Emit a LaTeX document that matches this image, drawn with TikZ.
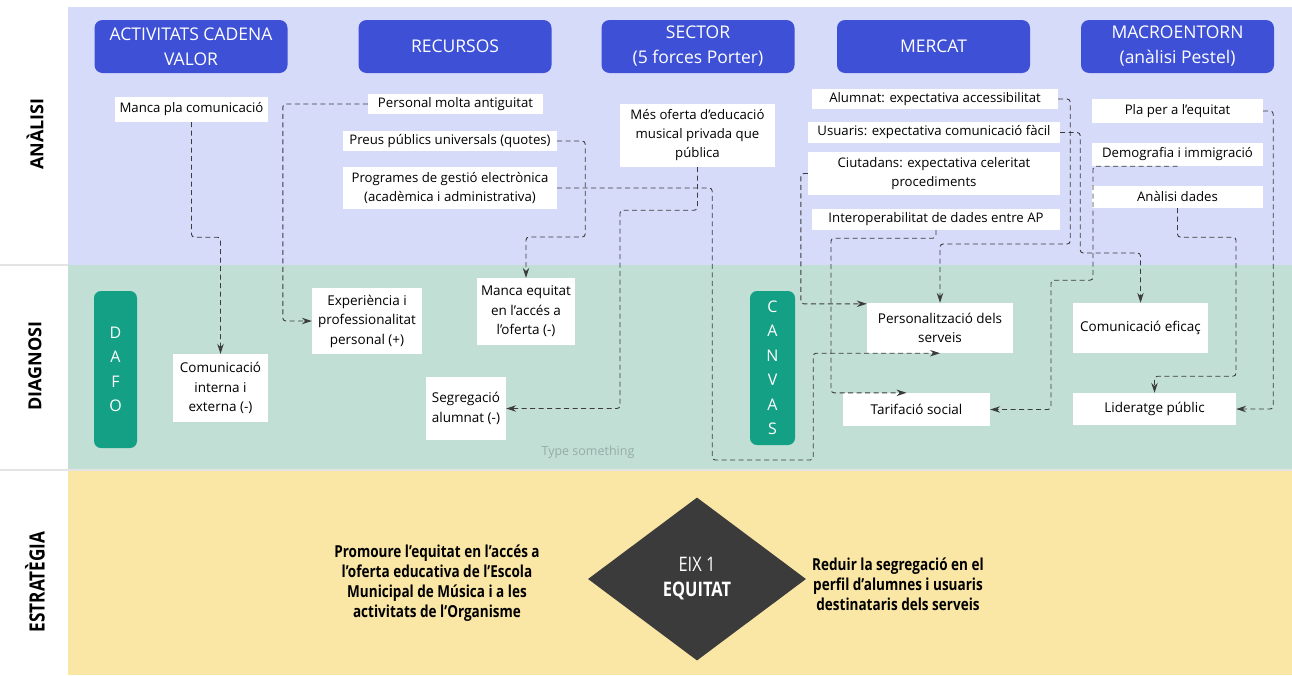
\documentclass[tikz,border=0pt]{standalone}
\usepackage{fontspec}
\setmainfont{Open Sans}
\newfontfamily\condfont[FakeStretch=0.82]{Open Sans}
\usetikzlibrary{arrows.meta,shapes.geometric}

\definecolor{anacol}{RGB}{214,219,250}
\definecolor{diacol}{RGB}{194,223,214}
\definecolor{estcol}{RGB}{250,230,165}
\definecolor{headblue}{RGB}{61,80,214}
\definecolor{taggreen}{RGB}{20,160,133}
\definecolor{linkgrey}{RGB}{60,60,60}
\definecolor{diamgrey}{RGB}{59,59,59}
\definecolor{hintgrey}{RGB}{150,172,166}
\definecolor{sepgrey}{RGB}{228,228,228}

\tikzset{
  head/.style={fill=headblue, text=white, rounded corners=8pt, minimum width=193pt,
    minimum height=53pt, inner sep=0pt, align=center, font=\fontsize{17.5}{25}\selectfont},
  item/.style={fill=white, inner sep=0pt, align=center, font=\fontsize{13.2}{19}\selectfont},
  diagitem/.style={item, font=\fontsize{13.5}{19.5}\selectfont},
  tag/.style={fill=taggreen, text=white, rounded corners=7pt, inner sep=0pt,
    align=center, font=\fontsize{16}{24.5}\selectfont},
  link/.style={draw=linkgrey, dash pattern=on 5pt off 3.5pt, line width=0.9pt,
    rounded corners=3pt, -{Stealth[length=10pt,width=6.5pt]}},
  bandlabel/.style={rotate=90, font=\fontsize{18}{20}\selectfont\bfseries},
  goal/.style={align=center, font=\condfont\bfseries\fontsize{16.5}{20}\selectfont}
}

\begin{document}
\begin{tikzpicture}[x=1pt,y=-1pt]
  \useasboundingbox[fill=white] (0,0) rectangle (1292,675);

  % bands
  \fill[anacol] (68,7) rectangle (1292,265);
  \fill[diacol] (68,265) rectangle (1292,469);
  \fill[estcol] (68,471) rectangle (1292,675);
  \draw[sepgrey, line width=2pt] (0,265) -- (68,265);
  \draw[sepgrey, line width=2pt] (0,470) -- (1292,470);

  \node[bandlabel] (lana) at (35,134) {ANÀLISI};
  \node[bandlabel] (ldia) at (35,366) {DIAGNOSI};
  \node[bandlabel, font=\condfont\bfseries\fontsize{21}{22}\selectfont] (lest) at (35,582) {ESTRATÈGIA};

  % headers
  \node[head] (hvalor) at (191,46.5) {ACTIVITATS CADENA\\VALOR};
  \node[head] (hrecursos) at (455,46.5) {RECURSOS};
  \node[head] (hsector) at (698,46.5) {SECTOR\\(5 forces Porter)};
  \node[head] (hmercat) at (933.5,46.5) {MERCAT};
  \node[head] (hmacro) at (1177.5,46.5) {MACROENTORN\\(anàlisi Pestel)};

  % analisi
  \node[item, minimum width=153pt, minimum height=25pt] (plac) at (191.5,109.5) {Manca pla comunicació};
  \node[item, minimum width=175pt, minimum height=20pt] (persant) at (455.5,104) {Personal molta antiguitat};
  \node[item, minimum width=214pt, minimum height=20pt] (preus) at (450,141) {Preus públics universals (quotes)};
  \node[item, minimum width=214pt, minimum height=42pt] (progr) at (450,188) {Programes de gestió electrònica\\(acadèmica i administrativa)};
  \node[item, minimum width=155pt, minimum height=63pt] (oferta) at (697.5,135.5) {Més oferta d'educació\\musical privada que\\pública};
  \node[item, minimum width=246pt, minimum height=20pt] (alumnat) at (935,99) {Alumnat: expectativa accessibilitat};
  \node[item, minimum width=252pt, minimum height=21pt] (usuaris) at (934,132.5) {Usuaris: expectativa comunicació fàcil};
  \node[item, minimum width=252pt, minimum height=43pt] (ciutadans) at (934,173.5) {Ciutadans: expectativa celeritat\\procediments};
  \node[item, minimum width=248pt, minimum height=21pt] (interop) at (936,219.5) {Interoperabilitat de dades entre AP};
  \node[item, minimum width=171pt, minimum height=24pt] (pla) at (1177.5,111) {Pla per a l'equitat};
  \node[item, minimum width=171pt, minimum height=23pt] (demo) at (1177.5,154.5) {Demografia i immigració};
  \node[item, minimum width=171pt, minimum height=22pt] (dades) at (1177.5,197) {Anàlisi dades};

  % diagnosi
  \node[tag, minimum width=43pt, minimum height=157pt] (dafo) at (115.5,369.5) {D\\A\\F\\O};
  \node[tag, minimum width=45pt, minimum height=154pt] (canvas) at (772.5,368) {C\\A\\N\\V\\A\\S};
  \node[diagitem, minimum width=95pt, minimum height=68pt] (comint) at (220.5,388) {Comunicació\\interna i\\externa (-)};
  \node[diagitem, minimum width=110pt, minimum height=66pt] (expe) at (367,321) {Experiència i\\professionalitat\\personal (+)};
  \node[diagitem, minimum width=98pt, minimum height=67pt] (mancaeq) at (526,311.5) {Manca equitat\\en l'accés a\\l'oferta (-)};
  \node[diagitem, minimum width=80pt, minimum height=63pt] (segreg) at (466,408.5) {Segregació\\alumnat (-)};
  \node[diagitem, minimum width=146pt, minimum height=50pt] (pers) at (940,328) {Personalització dels\\serveis};
  \node[diagitem, minimum width=147pt, minimum height=33pt] (tarif) at (916.5,409.5) {Tarifació social};
  \node[diagitem, minimum width=135pt, minimum height=50pt] (comef) at (1140.5,328) {Comunicació eficaç};
  \node[diagitem, minimum width=163pt, minimum height=32pt] (lider) at (1154.5,409) {Lideratge públic};
  \node[text=hintgrey, font=\fontsize{12.5}{14}\selectfont] (hint) at (588,452) {Type something};

  % links
  \draw[link] (plac.south) -- ++(0,115) -| (comint.north);
  \draw[link] (persant.west) -- ++(-85,0) |- (expe.west);
  \draw[link] (preus.east) -- ++(28,0) -- ++(0,96) -| (mancaeq.north);
  \draw[link] (progr.east) -- ++(155,0) -- ++(0,272) -- ++(101,0) |- (pers.south);
  \draw[link] (oferta.south) -- ++(0,43) -- ++(-77.5,0) |- (segreg.east);
  \draw[link] (ciutadans.west) -- ++(-7,0) |- ([yshift=-1pt]pers.north west);
  \draw[link] (interop.south) -- ++(0,8) -- ++(-105,0) |- ([xshift=-10pt]tarif.north);
  \draw[link] (alumnat.east) -- ++(12,0) -- ++(0,145) -| (pers.north);
  \draw[link] (usuaris.east) -- ++(20,0) -- ++(0,120.5) -| (comef.north);
  \draw[link] (demo.south) -- ++(-84.5,0) -- ++(0,114) -- ++(-42,0) |- (tarif.east);
  \draw[link] (dades.south) -- ++(0,29) -- ++(58.5,0) -- ++(0,139) -| (lider.north);
  \draw[link] (pla.east) -- ++(10,0) |- (lider.east);

  % estrategia
  \node[diamond, fill=diamgrey, text=white, minimum width=218pt, minimum height=163pt,
    inner sep=0pt, align=center, font=\condfont\fontsize{20}{25}\selectfont] (eix) at (697,579) {EIX 1\\\textbf{EQUITAT}};
  \node[goal] (goalesq) at (437,583) {Promoure l’equitat en l’accés a\\l’oferta educativa de l’Escola\\Municipal de Música i a les\\activitats de l’Organisme};
  \node[goal] (goaldre) at (898,584) {Reduir la segregació en el\\perfil d’alumnes i usuaris\\destinataris dels serveis};
\end{tikzpicture}
\end{document}
